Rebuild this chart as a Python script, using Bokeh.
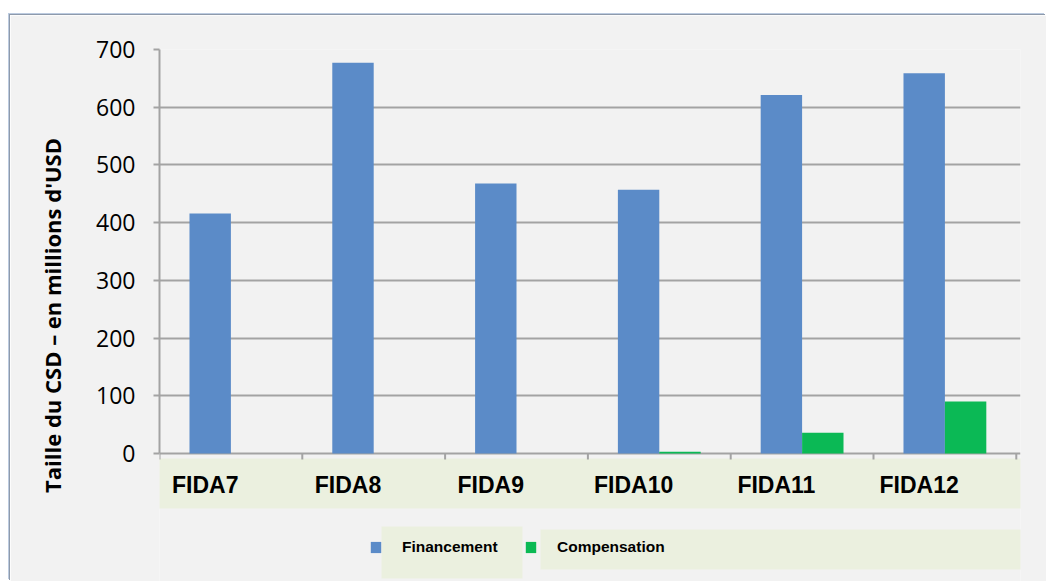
import numpy as np
from bokeh.plotting import figure
from bokeh.models import (Range1d, FixedTicker, BoxAnnotation, Legend, LegendItem,
                          ColumnDataSource)
from bokeh.core.properties import value
from bokeh.embed import file_html
from bokeh.resources import INLINE

# ---- data ----
categories = ["FIDA7", "FIDA8", "FIDA9", "FIDA10", "FIDA11", "FIDA12"]
financement = [416, 677, 468, 457, 621, 659]
compensation = [0, 0, 0, 3, 36, 90]
y_ticks = [0, 100, 200, 300, 400, 500, 600, 700]
series_names = ["Financement", "Compensation"]
y_title = "Taille du CSD \u2013 en millions d'USD"

# ---- layout (page pixels) ----
PAGE_W, PAGE_H = 1046, 581
OX, OY = 10, 15                      # white page margin round the chart panel
F_LEFT, F_RIGHT, F_TOP, F_BOTTOM = 159, 1020, 49, 581
ZERO_Y = 453                         # page y of value 0
CAT_W = 142.8                        # pixels per category

BLUE = "#5b8bc8"
GREEN = "#0bb955"
BEIGE = "#ebf0df"
BG = "#f2f2f2"
GRID = "#a3a3a3"

n = len(categories)
idx = np.arange(n)
ymax = y_ticks[-1]
ppu_y = (ZERO_Y - F_TOP) / ymax

def dx(px):
    return (px - F_LEFT) / CAT_W

def dy(py):
    return (ZERO_Y - py) / ppu_y

bw = 0.29
label_shift = 0.18

p = figure(width=PAGE_W - OX, height=PAGE_H - OY, margin=(OY, 0, 0, OX),
           styles={"box-shadow": "-1px -1px 0 0 #8e9aab, -2px -2px 0 0 #bccbe0"},
           output_backend="svg", toolbar_location=None,
           x_range=Range1d(0, dx(F_RIGHT)), y_range=Range1d(dy(F_BOTTOM), ymax),
           x_axis_location=None,
           min_border_left=F_LEFT - OX, min_border_right=PAGE_W - F_RIGHT,
           min_border_top=F_TOP - OY, min_border_bottom=PAGE_H - F_BOTTOM,
           border_fill_color=BG, background_fill_color=BG)
p.outline_line_color = None

# category label band (below the value axis)
p.quad(left=dx(154), right=dx(1023), top=dy(458), bottom=dy(508),
       fill_color=BEIGE, line_color=None)

# legend label boxes
p.add_layout(BoxAnnotation(left=dx(381), right=dx(522), top=dy(526), bottom=dy(578),
                           fill_color=BEIGE, fill_alpha=1, line_color=None))
p.add_layout(BoxAnnotation(left=dx(540), right=dx(1024), top=dy(529), bottom=dy(569),
                           fill_color=BEIGE, fill_alpha=1, line_color=None))

r1 = p.vbar(x=idx + 0.5 - bw / 2, top=financement, width=bw,
            fill_color=BLUE, line_color=None)
r2 = p.vbar(x=idx + 0.5 + bw / 2, top=compensation, width=bw,
            fill_color=GREEN, line_color=None)

# category boundary ticks
bounds = np.arange(n + 1)
p.segment(x0=bounds, y0=0, x1=bounds, y1=dy(459), line_color=GRID, line_width=2)

# category labels
src = ColumnDataSource(dict(x=idx + 0.5 - label_shift, y=[dy(484)] * n, t=categories))
p.text(x="x", y="y", text="t", source=src, text_align="center", text_baseline="middle",
       text_font=value("Liberation Sans"), text_font_style="bold",
       text_font_size="23px", text_color="black")

# y axis
ya = p.yaxis[0]
ya.ticker = FixedTicker(ticks=y_ticks)
ya.bounds = (0, ymax)
ya.axis_line_color = GRID
ya.axis_line_width = 2
ya.major_tick_line_color = GRID
ya.major_tick_line_width = 2
ya.major_tick_out = 6
ya.major_tick_in = 0
ya.minor_tick_line_color = None
ya.major_label_text_font = "Open Sans"
ya.major_label_text_font_size = "23px"
ya.major_label_text_color = "black"
ya.major_label_standoff = 18
ya.axis_label = y_title
ya.axis_label_text_font = "Open Sans"
ya.axis_label_text_font_style = "bold"
ya.axis_label_text_font_size = "22px"
ya.axis_label_text_color = "black"
ya.axis_label_standoff = 26

p.xgrid.visible = False
p.ygrid.ticker = FixedTicker(ticks=y_ticks)
p.ygrid.grid_line_color = GRID
p.ygrid.grid_line_width = 2

legend = Legend(items=[LegendItem(label=series_names[0], renderers=[r1]),
                       LegendItem(label=series_names[1], renderers=[r2])],
                orientation="horizontal", location=(369 - F_LEFT, F_BOTTOM - 556),
                padding=0, margin=0, spacing=20, glyph_width=13, glyph_height=14,
                label_standoff=20, label_width=102, label_height=14,
                background_fill_alpha=0, border_line_color=None,
                label_text_font="Liberation Sans", label_text_font_style="bold",
                label_text_font_size="15.5px", label_text_color="black")
p.add_layout(legend)

open("out.html", "w").write(file_html(p, INLINE))
